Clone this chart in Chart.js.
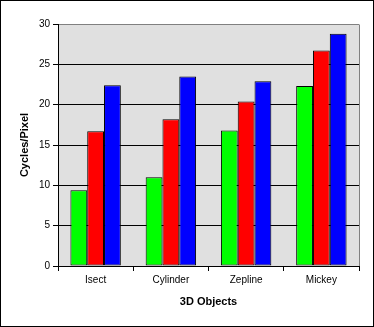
<!DOCTYPE html>
<html lang="en">
<head>
    <meta charset="UTF-8">
    <title>Cycles per Pixel</title>
    <script src="https://cdn.jsdelivr.net/npm/chart.js"></script>
    <style>
        body { margin: 0; background: #fff; }
        canvas { display: block; }
    </style>
</head>
<body>
    <canvas id="cyclesChart" width="374" height="327"></canvas>
    <script>
        // values
        var objects = ['Isect', 'Cylinder', 'Zepline', 'Mickey'];
        var greenSeries = [9.4, 11.0, 16.8, 22.3];
        var redSeries = [16.7, 18.2, 20.4, 26.7];
        var blueSeries = [22.4, 23.5, 22.9, 28.8];
        var yTicks = [0, 5, 10, 15, 20, 25, 30];

        var tickFont = { family: 'Arial, "Liberation Sans", sans-serif', size: 10 };
        var titleFont = { family: 'Arial, "Liberation Sans", sans-serif', size: 11, weight: 'bold' };

        // grey plot area, grey right edge and the black frame round the picture
        var chartFrame = {
            id: 'chartFrame',
            beforeDraw: function (chart) {
                var c = chart.ctx, a = chart.chartArea;
                c.save();
                c.fillStyle = '#ffffff';
                c.fillRect(0, 0, chart.width, chart.height);
                c.fillStyle = '#e0e0e0';
                c.fillRect(a.left, a.top, a.right - a.left, a.bottom - a.top);
                c.restore();
            },
            afterDraw: function (chart) {
                var c = chart.ctx, a = chart.chartArea;
                c.save();
                c.lineWidth = 1;
                c.strokeStyle = '#808080';
                c.beginPath();
                c.moveTo(Math.round(a.right) + 0.5, Math.round(a.top) + 0.5);
                c.lineTo(Math.round(a.right) + 0.5, Math.round(a.bottom));
                c.stroke();
                c.strokeStyle = '#000000';
                c.strokeRect(0.5, 0.5, chart.width - 1, chart.height - 1);
                c.restore();
            }
        };

        var ctx = document.getElementById('cyclesChart').getContext('2d');
        var cyclesChart = new Chart(ctx, {
            type: 'bar',
            data: {
                labels: objects,
                datasets: [
                    { label: 'Series 1', data: greenSeries, backgroundColor: '#00ff00' },
                    { label: 'Series 2', data: redSeries, backgroundColor: '#ff0000' },
                    { label: 'Series 3', data: blueSeries, backgroundColor: '#0000ff' }
                ]
            },
            options: {
                responsive: false,
                animation: false,
                layout: { padding: { left: 0, top: 24, right: 15, bottom: 0 } },
                datasets: {
                    bar: {
                        borderColor: '#000000',
                        borderWidth: 1,
                        borderSkipped: false,
                        barPercentage: 1,
                        categoryPercentage: 0.67
                    }
                },
                plugins: {
                    legend: { display: false },
                    tooltip: { enabled: false }
                },
                scales: {
                    x: {
                        afterFit: function (scale) { scale.height = 61; },
                        grid: {
                            drawOnChartArea: false,
                            drawTicks: true,
                            tickLength: 5,
                            color: '#000000'
                        },
                        border: { color: '#000000' },
                        ticks: { color: '#000000', font: tickFont, padding: 3 },
                        title: {
                            display: true,
                            text: '3D Objects',
                            color: '#000000',
                            font: titleFont,
                            padding: { top: 0, bottom: 18 }
                        }
                    },
                    y: {
                        min: 0,
                        max: 30,
                        afterFit: function (scale) { scale.width = 58; },
                        afterBuildTicks: function (scale) {
                            scale.ticks = yTicks.map(function (v) { return { value: v }; });
                        },
                        grid: {
                            color: function (c) { return c.tick && c.tick.value === 30 ? '#808080' : '#000000'; },
                            tickColor: '#000000',
                            tickLength: 5
                        },
                        border: { color: '#000000' },
                        ticks: { color: '#000000', font: tickFont, padding: 3 },
                        title: {
                            display: true,
                            text: 'Cycles/Pixel',
                            color: '#000000',
                            font: titleFont,
                            padding: { top: 18, bottom: 0 }
                        }
                    }
                }
            },
            plugins: [chartFrame]
        });
    </script>
</body>
</html>
